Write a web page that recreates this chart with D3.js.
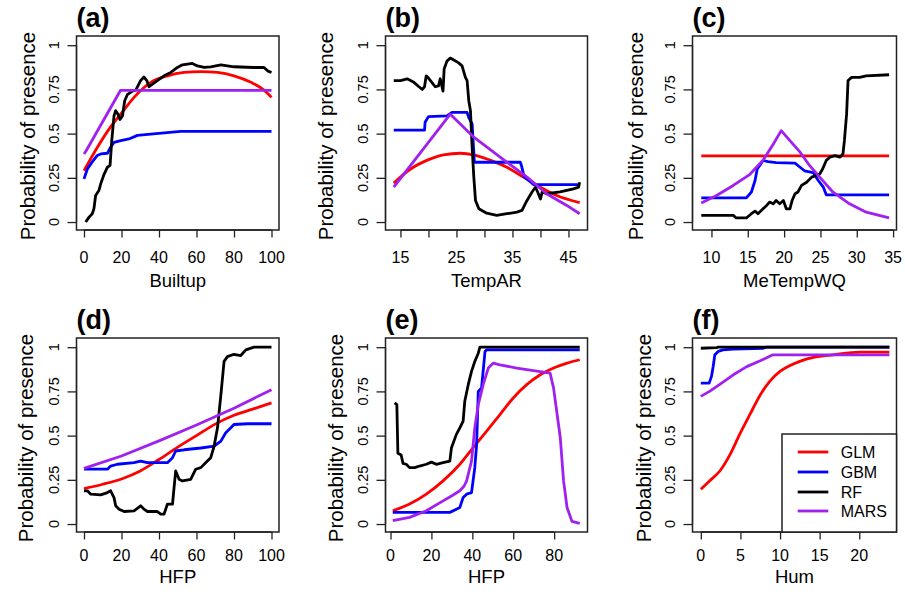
<!DOCTYPE html>
<html>
<head>
<meta charset="utf-8">
<script src="https://cdn.jsdelivr.net/npm/d3@7/dist/d3.min.js"></script>
<style>
  body { margin: 0; background: #fff; }
  svg { display: block; font-family: "Liberation Sans", Arial, Helvetica, sans-serif; }
</style>
</head>
<body>
<script>
var width = 905, height = 595;

// legend / model names and colours
var modeli = ["GLM", "GBM", "RF", "MARS"];
var barve = ["#ff0000", "#0000ff", "#000000", "#a020f0"];

var yTicks = [0, 0.25, 0.5, 0.75, 1];
var yTickLabels = ["0", "0.25", "0.5", "0.75", "1"];

// (a) Builtup
var builtupGLM = [[0,0.29],[7,0.42],[14,0.535],[19.6,0.61],[26.7,0.705],[35.6,0.79],[44.5,0.827],[53.4,0.846],[62.3,0.851],[71.2,0.846],[80,0.827],[89,0.79],[96,0.746],[100,0.705]];
var builtupGBM = [[0,0.244],[1.8,0.30],[4.4,0.34],[7,0.376],[9,0.385],[12.5,0.389],[14,0.42],[16,0.45],[19.6,0.46],[24,0.47],[28.5,0.49],[37,0.498],[51.6,0.513],[100,0.513]];
var builtupRF = [[0.9,0],[2.7,0.028],[4.4,0.047],[5.3,0.075],[6.2,0.15],[8,0.18],[8.9,0.216],[10.7,0.27],[12.5,0.31],[13.9,0.32],[14.8,0.46],[16,0.60],[16.9,0.63],[18.1,0.61],[19.2,0.58],[20.5,0.60],[21.7,0.686],[23.1,0.72],[25.8,0.74],[27.6,0.746],[30.2,0.80],[32,0.82],[33.5,0.80],[34.7,0.765],[36.5,0.78],[39.1,0.80],[42.7,0.827],[46.3,0.846],[49.8,0.874],[52.5,0.889],[55.2,0.893],[57.8,0.897],[60.5,0.883],[64.1,0.874],[67.6,0.878],[73,0.889],[80,0.878],[90.7,0.874],[96,0.874],[97.9,0.855],[100,0.846]];
var builtupMARS = [[0,0.385],[1,0.40],[19.5,0.745],[100,0.745]];

// (b) TempAR
var tempGLM = [[13.8,0.22],[16.8,0.30],[19.8,0.35],[22.7,0.38],[25.7,0.389],[28.1,0.38],[31,0.35],[34,0.31],[37,0.254],[40,0.197],[42.9,0.15],[47,0.11]];
var tempGBM = [[13.8,0.52],[19.3,0.52],[19.4,0.564],[20,0.596],[23.3,0.60],[24.2,0.62],[26.9,0.62],[27.2,0.59],[27.8,0.555],[28.2,0.338],[36.4,0.338],[36.6,0.32],[37.1,0.254],[37.9,0.235],[38.8,0.212],[47,0.212]];
var tempRF = [[13.8,0.80],[15,0.80],[16.2,0.81],[17.4,0.79],[18.3,0.765],[18.9,0.75],[19.3,0.765],[19.6,0.827],[20,0.814],[20.6,0.79],[21.2,0.765],[21.8,0.77],[22.1,0.81],[22.6,0.74],[22.8,0.865],[23.3,0.91],[23.9,0.927],[24.6,0.915],[25.4,0.90],[26,0.883],[26.6,0.818],[26.9,0.80],[27.2,0.686],[27.5,0.63],[27.8,0.423],[28.1,0.254],[28.4,0.122],[29,0.075],[30.4,0.05],[32.2,0.038],[34,0.047],[35.8,0.056],[36.7,0.066],[37.6,0.122],[38.5,0.17],[39.1,0.197],[39.5,0.17],[40,0.13],[40.3,0.17],[41.1,0.16],[43.5,0.17],[45.9,0.188],[46.8,0.197],[47,0.225]];
var tempMARS = [[13.8,0.197],[23.9,0.61],[28.1,0.48],[32.8,0.367],[37.6,0.254],[41.1,0.16],[44.7,0.094],[47,0.047]];

// (c) MeTempWQ
var metempGLM = [[8.6,0.374],[34.45,0.374]];
var metempGBM = [[8.6,0.137],[14.8,0.137],[15.5,0.17],[16,0.235],[16.3,0.30],[16.65,0.32],[17.1,0.348],[17.8,0.342],[18.9,0.336],[21.5,0.333],[22.2,0.31],[22.8,0.29],[24,0.28],[24.7,0.235],[25.4,0.197],[25.8,0.154],[34.45,0.154]];
var metempRF = [[8.6,0.038],[13,0.038],[13.4,0.023],[14.8,0.023],[15.5,0.047],[16,0.062],[16.4,0.047],[17.1,0.075],[17.6,0.094],[18,0.113],[18.5,0.103],[18.9,0.122],[19.4,0.103],[19.9,0.122],[20.3,0.075],[20.8,0.075],[21.1,0.122],[21.5,0.16],[21.9,0.17],[22.4,0.207],[23.1,0.225],[23.8,0.254],[24.4,0.263],[24.9,0.272],[25.3,0.30],[25.8,0.348],[26.3,0.367],[27,0.376],[27.7,0.367],[28.1,0.385],[28.3,0.46],[28.6,0.61],[28.8,0.80],[29.3,0.818],[30.4,0.818],[31.3,0.827],[34.45,0.833]];
var metempMARS = [[8.6,0.107],[10.7,0.15],[13,0.207],[15.3,0.27],[17.1,0.35],[18.5,0.44],[19.6,0.517],[20.8,0.46],[22.2,0.395],[23.5,0.32],[24.9,0.254],[26.7,0.17],[29,0.103],[31.3,0.056],[34.45,0.024]];

// (d) HFP
var hfpGLM = [[0,0.20],[10,0.225],[20,0.255],[30,0.30],[40,0.365],[50,0.435],[60,0.50],[70,0.565],[80,0.615],[90,0.65],[100,0.685]];
var hfpGBM = [[0,0.31],[12.5,0.31],[14.2,0.328],[17.8,0.338],[26.7,0.347],[30.2,0.356],[33.8,0.347],[44.5,0.347],[47.2,0.375],[48.9,0.413],[53.4,0.42],[62.3,0.43],[69.4,0.44],[73,0.469],[75.6,0.516],[78.3,0.544],[80,0.563],[87.2,0.567],[100,0.567]];
var hfpRF = [[0,0.188],[1.8,0.188],[3.6,0.169],[8.9,0.165],[12.5,0.178],[14.2,0.188],[16,0.15],[16.9,0.103],[18.7,0.084],[21.4,0.071],[26.7,0.075],[30.2,0.103],[32,0.084],[33.8,0.071],[39.1,0.071],[40.9,0.056],[42.7,0.056],[44.5,0.113],[47.2,0.113],[47.7,0.169],[48.9,0.30],[50.7,0.253],[52.5,0.244],[56.9,0.253],[59.6,0.31],[62.3,0.319],[65.8,0.356],[67.6,0.375],[69.4,0.441],[71.2,0.544],[73,0.73],[74.7,0.92],[76.5,0.947],[80,0.96],[83.6,0.953],[86.3,0.985],[90.7,1.0],[100,1.0]];
var hfpMARS = [[0,0.315],[20,0.385],[40,0.47],[60,0.56],[80,0.655],[100,0.76]];

// (e) HFP
var hfp2GLM = [[1.1,0.075],[9.3,0.113],[17.5,0.169],[25.7,0.244],[33.9,0.338],[40.4,0.432],[47,0.525],[53.5,0.619],[60,0.713],[66.6,0.788],[73.2,0.844],[79.7,0.882],[86.3,0.91],[92.5,0.929]];
var hfp2GBM = [[1.1,0.066],[29,0.066],[32.2,0.084],[33.9,0.094],[35.5,0.15],[37.2,0.169],[39.6,0.178],[41.2,0.319],[42.1,0.45],[42.9,0.75],[44.5,0.769],[46.2,0.976],[47,0.985],[92.5,0.985]];
var hfp2RF = [[2,0.685],[3.1,0.675],[3.6,0.40],[5.2,0.39],[6.1,0.343],[7.7,0.338],[9.3,0.319],[11.8,0.319],[14.2,0.328],[17.5,0.338],[20,0.35],[22.4,0.338],[25.7,0.347],[29,0.356],[29.8,0.432],[32.2,0.507],[33.9,0.544],[35.5,0.582],[36.3,0.694],[38,0.788],[39.6,0.863],[41.2,0.919],[42.9,0.966],[43.7,1.0],[92.5,1.0]];
var hfp2MARS = [[1.1,0.019],[9.3,0.038],[17.5,0.075],[25.7,0.131],[30,0.16],[33.9,0.188],[36,0.215],[37.2,0.244],[39.6,0.356],[41.2,0.544],[42.9,0.675],[45.3,0.788],[47.8,0.882],[50.2,0.91],[53.5,0.90],[61.7,0.882],[69.9,0.868],[78,0.854],[79.7,0.77],[83,0.488],[84.6,0.244],[86.3,0.094],[88.7,0.015],[92.5,0.004]];

// (f) Hum
var humGLM = [[0,0.197],[1.1,0.244],[2.4,0.30],[3.7,0.394],[4.9,0.507],[6.2,0.62],[7.5,0.73],[8.7,0.807],[10,0.863],[11.2,0.895],[12.5,0.92],[14.2,0.942],[16.7,0.957],[20.1,0.972],[23.8,0.972]];
var humGBM = [[0,0.797],[1.05,0.797],[1.35,0.835],[1.56,0.891],[1.77,0.957],[2.2,0.976],[2.8,0.985],[4.1,0.989],[7.9,0.994],[8.3,1.0],[23.8,1.0]];
var humRF = [[0,0.994],[2,0.998],[2.2,1.0],[23.8,1.0]];
var humMARS = [[0,0.722],[1.1,0.75],[2.4,0.79],[4.1,0.844],[5.8,0.89],[7.5,0.923],[9.1,0.957],[23.8,0.957]];

var xTicksA = [0, 20, 40, 60, 80, 100];
var xTicksB = [15, 20, 25, 30, 35, 40, 45];
var xLabelsB = [15, 25, 35, 45];
var xTicksC = [10, 15, 20, 25, 30, 35];
var xTicksE = [0, 20, 40, 60, 80];
var xTicksF = [0, 5, 10, 15, 20];

var colLeft = [76.5, 385.5, 692.5], colRight = [279, 587.5, 896.5];
var rowTop = [36, 338], rowBottom = [230, 532];

var paneli = [
  {naslov: "(a)", os: "Builtup", col: 0, row: 0, xlim: [-4, 104], ticks: xTicksA, labels: xTicksA, yTitleX: 35, serije: [builtupGLM, builtupGBM, builtupRF, builtupMARS]},
  {naslov: "(b)", os: "TempAR", col: 1, row: 0, xlim: [12.33, 48.4], ticks: xTicksB, labels: xLabelsB, yTitleX: 333, serije: [tempGLM, tempGBM, tempRF, tempMARS]},
  {naslov: "(c)", os: "MeTempWQ", col: 2, row: 0, xlim: [7.39, 35.47], ticks: xTicksC, labels: xTicksC, yTitleX: 643, serije: [metempGLM, metempGBM, metempRF, metempMARS]},
  {naslov: "(d)", os: "HFP", col: 0, row: 1, xlim: [-4, 104], ticks: xTicksA, labels: xTicksA, yTitleX: 33, serije: [hfpGLM, hfpGBM, hfpRF, hfpMARS]},
  {naslov: "(e)", os: "HFP", col: 1, row: 1, xlim: [-2.45, 96.3], ticks: xTicksE, labels: xTicksE, yTitleX: 343, serije: [hfp2GLM, hfp2GBM, hfp2RF, hfp2MARS]},
  {naslov: "(f)", os: "Hum", col: 2, row: 1, xlim: [-1.05, 24.7], ticks: xTicksF, labels: xTicksF, yTitleX: 651, serije: [humGLM, humGBM, humRF, humMARS]}
];

var tickLabelBase = [263, 561], xTitleBase = [286.5, 583], titleBase = [27, 329];

var svg = d3.select("body").append("svg")
  .attr("width", width)
  .attr("height", height);

paneli.forEach(function (p) {
  var left = colLeft[p.col], right = colRight[p.col];
  var top = rowTop[p.row], bottom = rowBottom[p.row];
  var x = d3.scaleLinear().domain(p.xlim).range([left, right]);
  var y = d3.scaleLinear().domain([-0.045, 1.052]).range([bottom, top]);
  var g = svg.append("g");

  var line = d3.line()
    .x(function (d) { return x(d[0]); })
    .y(function (d) { return y(d[1]); });
  // GLM is a smooth curve
  var gladka = d3.line()
    .x(function (d) { return x(d[0]); })
    .y(function (d) { return y(d[1]); })
    .curve(d3.curveMonotoneX);

  // curves: GLM, GBM, RF, MARS
  p.serije.forEach(function (s, i) {
    g.append("path")
      .attr("d", i == 0 ? gladka(s) : line(s))
      .attr("fill", "none")
      .attr("stroke", barve[i])
      .attr("stroke-width", 2.8)
      .attr("stroke-linejoin", "round");
  });

  // x axis (R style, ticks below the box)
  var xAxis = d3.axisBottom(x).tickValues(p.ticks).tickSize(7.5).tickFormat("");
  var ga = g.append("g").attr("transform", "translate(0," + bottom + ")").call(xAxis);
  ga.select(".domain").attr("d", "M" + x(p.ticks[0]) + ",0H" + x(p.ticks[p.ticks.length - 1]));
  ga.selectAll("line, path").attr("stroke", "#222").attr("stroke-width", 1.3);

  g.selectAll(".xl").data(p.labels).enter().append("text")
    .attr("x", function (d) { return x(d); })
    .attr("y", tickLabelBase[p.row])
    .attr("text-anchor", "middle")
    .attr("font-size", 16)
    .text(function (d) { return d; });

  var yAxis = d3.axisLeft(y).tickValues(yTicks).tickSize(9).tickFormat("");
  var gy = g.append("g").attr("transform", "translate(" + left + ",0)").call(yAxis);
  gy.select(".domain").attr("d", "M0," + y(0) + "V" + y(1));
  gy.selectAll("line, path").attr("stroke", "#222").attr("stroke-width", 1.3);

  g.selectAll(".yl").data(yTicks).enter().append("text")
    .attr("transform", function (d) { return "translate(" + (left - 17.5) + "," + y(d) + ") rotate(-90)"; })
    .attr("text-anchor", "middle")
    .attr("font-size", 14.5)
    .text(function (d, i) { return yTickLabels[i]; });

  // box
  g.append("rect")
    .attr("x", left).attr("y", top)
    .attr("width", right - left).attr("height", bottom - top)
    .attr("fill", "none").attr("stroke", "#222").attr("stroke-width", 1.5);

  g.append("text")
    .attr("x", (left + right) / 2)
    .attr("y", xTitleBase[p.row])
    .attr("text-anchor", "middle")
    .attr("font-size", 18.5)
    .text(p.os);

  g.append("text")
    .attr("transform", "translate(" + p.yTitleX + "," + ((top + bottom) / 2 + 3) + ") rotate(-90)")
    .attr("text-anchor", "middle")
    .attr("font-size", 20.5)
    .text("Probability of presence");

  g.append("text")
    .attr("x", left)
    .attr("y", titleBase[p.row])
    .attr("font-size", 27)
    .attr("font-weight", "bold")
    .text(p.naslov);
});

// legend in panel (f)
var leg = svg.append("g");
leg.append("rect")
  .attr("x", 782).attr("y", 434)
  .attr("width", 896.5 - 782).attr("height", 532 - 434)
  .attr("fill", "#fff").attr("stroke", "#222").attr("stroke-width", 1.5);
var legY = [452, 472, 492, 511];
modeli.forEach(function (m, i) {
  leg.append("line")
    .attr("x1", 797.7).attr("x2", 828.3)
    .attr("y1", legY[i]).attr("y2", legY[i])
    .attr("stroke", barve[i]).attr("stroke-width", 2.8);
  leg.append("text")
    .attr("x", 840.7).attr("y", legY[i] + 6)
    .attr("font-size", 16)
    .text(m);
});
</script>
</body>
</html>
